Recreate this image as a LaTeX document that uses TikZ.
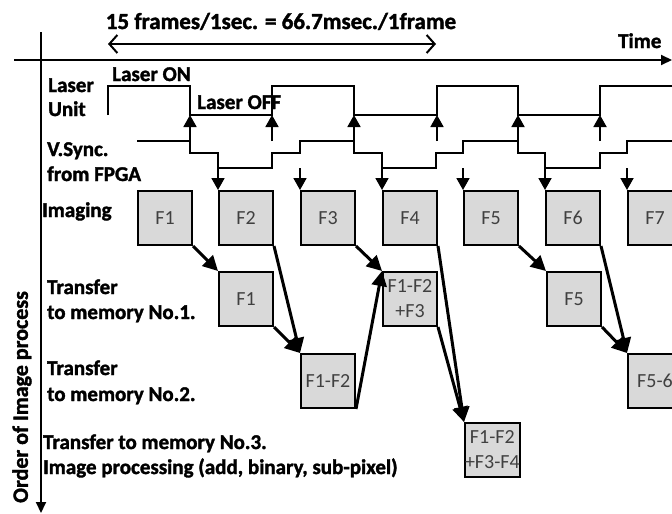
\documentclass[tikz,border=0pt]{standalone}
\usepackage{fontspec}
\IfFontExistsTF{Carlito Bold}
  {\setmainfont{Carlito}[BoldFont={Carlito Bold},BoldFeatures={FakeBold=1.6}]}
  {\setmainfont{Carlito}[BoldFeatures={FakeBold=3}]}
\usetikzlibrary{arrows.meta}
\definecolor{boxfill}{HTML}{D9D9D9}
\definecolor{boxtext}{HTML}{404040}
\begin{document}
\begin{tikzpicture}[x=1pt,y=-1pt,
  lbl/.style={anchor=base west, inner sep=0pt, font=\fontsize{21}{25}\selectfont\bfseries},
  fbox/.style={draw=black, line width=2pt, fill=boxfill, minimum width=54pt, minimum height=54pt,
     inner sep=0pt, anchor=north west, font=\fontsize{20}{25}\selectfont, text=boxtext, align=center},
  wave/.style={line width=1.8pt, line join=miter},
  sig/.style={line width=1.8pt, -{Triangle[length=12pt,width=13pt]}},
  xfer/.style={line width=3pt, -{Triangle[length=15pt,width=15pt]}},
  axis/.style={line width=2pt, -{Triangle[length=11pt,width=10pt]}}
]
\useasboundingbox (0,0) rectangle (672,514);
\clip (0,0) rectangle (672,514);

% axes
\coordinate (hA) at (14,60);
\coordinate (hB) at (672,60);
\coordinate (vA) at (41,32);
\coordinate (vB) at (41,513);
\draw[axis] (hA) -- (hB);
\draw[axis] (vA) -- (vB);
\node[anchor=base west, inner sep=0pt, font=\fontsize{21}{25}\selectfont\bfseries] (time) at (618,48) {Time};

% title
\node[anchor=base, inner sep=0pt, font=\fontsize{23}{26}\selectfont\bfseries] (title) at (281,29) {15 frames/1sec. = 66.7msec./1frame};
\coordinate (tA) at (108,44);
\coordinate (tB) at (436,44);
\draw[line width=2pt, {Straight Barb[length=8pt,width=18pt]}-{Straight Barb[length=8pt,width=18pt]}] (tA) -- (tB);

% left labels
\node[lbl] (lu1) at (48,92) {Laser};
\node[lbl] (lu2) at (48,116) {Unit};
\node[lbl] (lon) at (112,81) {Laser ON};
\node[lbl] (loff) at (197,109) {Laser OFF};
\node[lbl] (vs1) at (47,156) {V.Sync.};
\node[lbl] (vs2) at (47,181) {from FPGA};
\node[lbl] (img) at (42,217) {Imaging};
\node[lbl] (m1a) at (47,294) {Transfer};
\node[lbl] (m1b) at (47,319) {to memory No.1.};
\node[lbl] (m2a) at (47,375) {Transfer};
\node[lbl] (m2b) at (47,401) {to memory No.2.};
\node[lbl] (m3a) at (43,449) {Transfer to memory No.3.};
\node[lbl] (m3b) at (43,474) {Image processing (add, binary, sub-pixel)};
\node[rotate=90, inner sep=0pt, font=\fontsize{22}{25}\selectfont\bfseries] (ord) at (22,397) {Order of Image process};

% laser waveform
\draw[wave] (108,115) -- (108,86) -- (190,86) -- (190,115) -- (272,115) -- (272,86) -- (354,86)
  -- (354,115) -- (437,115) -- (437,86) -- (518,86) -- (518,115) -- (600,115) -- (600,86) -- (680,86);

% V.Sync waveform
\draw[wave] (137,141) -- (190,141) -- (190,153) -- (218,153) -- (218,168) -- (272,168) -- (272,153)
  -- (300,153) -- (300,141) -- (354,141) -- (354,153) -- (382,153) -- (382,168) -- (436,168)
  -- (436,153) -- (463,153) -- (463,141) -- (518,141) -- (518,153) -- (545,153) -- (545,168)
  -- (600,168) -- (600,153) -- (627,153) -- (627,141) -- (680,141);

% up arrows (V.Sync -> laser)
\foreach \i/\x in {1/190,2/272,3/354,4/437,5/518,6/600}{
  \coordinate (ua\i) at (\x,141);
  \coordinate (ub\i) at (\x,115);
  \draw[sig] (ua\i) -- (ub\i);
}

% imaging boxes
\node[fbox] (I1) at (137,190) {F1};
\node[fbox] (I2) at (218,190) {F2};
\node[fbox] (I3) at (300,190) {F3};
\node[fbox] (I4) at (382,190) {F4};
\node[fbox] (I5) at (463,190) {F5};
\node[fbox] (I6) at (545,190) {F6};
\node[fbox] (I7) at (627,190) {F7};

% down arrows (V.Sync -> imaging)
\foreach \i/\x in {2/218,3/300,4/382,5/463,6/545,7/627}{
  \coordinate (da\i) at (\x,168);
  \draw[sig] (da\i) -- (I\i.north west);
}

% memory boxes
\node[fbox] (A1) at (218,271) {F1};
\node[fbox] (A2) at (382,271) {F1-F2\\+F3};
\node[fbox] (A3) at (546,271) {F5};
\node[fbox] (B1) at (300,353) {F1-F2};
\node[fbox] (B2) at (627,353) {F5-6};
\node[fbox] (C1) at (464,422) {F1-F2\\+F3-F4};

% transfer arrows
\draw[xfer] (I1.south east) -- (A1.north west);
\draw[xfer] (I2.south east) -- (B1.north west);
\draw[xfer] (A1.south east) -- (B1.north west);
\draw[xfer] (B1.south east) -- (A2.north west);
\draw[xfer] (I3.south east) -- (A2.north west);
\draw[xfer] (I4.south east) -- (C1.north west);
\draw[xfer] (A2.south east) -- (C1.north west);
\draw[xfer] (I5.south east) -- (A3.north west);
\draw[xfer] (I6.south east) -- (B2.north west);
\draw[xfer] (A3.south east) -- (B2.north west);
\end{tikzpicture}
\end{document}
